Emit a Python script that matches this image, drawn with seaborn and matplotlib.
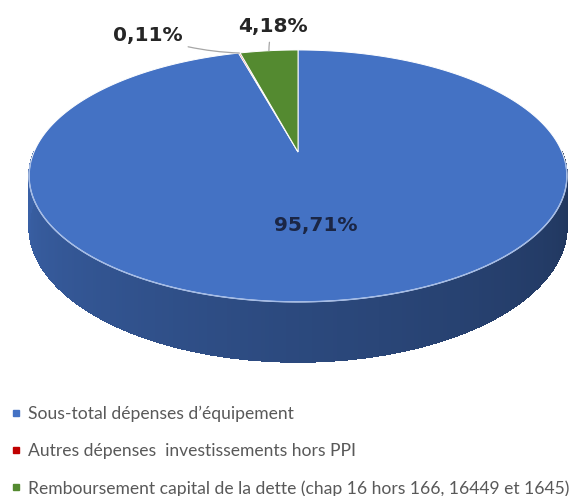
import numpy as np
import matplotlib
matplotlib.use("Agg")
import matplotlib.pyplot as plt
from matplotlib.lines import Line2D
from matplotlib.colors import to_rgb
import seaborn as sns

# ---- data -------------------------------------------------------------
categories = [
    "Sous-total dépenses d’équipement",
    "Autres dépenses  investissements hors PPI",
    "Remboursement capital de la dette (chap 16 hors 166, 16449 et 1645)",
]
shares = [95.71, 0.11, 4.18]
share_labels = ["95,71%", "0,11%", "4,18%"]
colors = ["#4472C4", "#C00000", "#548A30"]

# ---- theme ------------------------------------------------------------
sns.set_theme(style="white")
plt.rcParams["font.family"] = ["DejaVu Sans"]

W, H = 574, 496
fig = plt.figure(figsize=(W / 100, H / 100), dpi=100)
ax = fig.add_axes([0, 0, 1, 1])
ax.set_xlim(0, W)
ax.set_ylim(H, 0)
ax.axis("off")

# ---- 3D pie geometry (tilted disc seen in perspective) ----------------
CX, CY = 298.0, 152.0      # centre of the top face
A, B, K = 264.0, 121.4, 0.19
DEPTH = 48.6


def project(theta_deg, r=1.0):
    """Angle measured clockwise from 12 o'clock -> screen position."""
    t = np.radians(theta_deg)
    u, v = r * np.sin(t), r * np.cos(t)
    d = 1.0 + K * v
    return CX + A * u / d, CY - B * v / d, DEPTH / d


def side_factor(theta):
    # darker towards the right, lighter towards the left
    return np.interp(theta, [90, 180, 270], [0.45, 0.64, 0.86])


fracs = np.array(shares) / np.sum(shares)
bounds = np.concatenate([[0.0], np.cumsum(fracs) * 360.0])

# side walls (only the front half of the disc is visible)
for i, c in enumerate(colors):
    t0, t1 = max(bounds[i], 90.0), min(bounds[i + 1], 270.0)
    if t1 <= t0:
        continue
    steps = np.linspace(t0, t1, int(np.ceil((t1 - t0) / 0.75)) + 1)
    base = np.array(to_rgb(c))
    # smooth outline of the whole wall first
    top = [project(t) for t in steps]
    xs = [p[0] for p in top] + [p[0] for p in top[::-1]]
    ys = [p[1] for p in top] + [p[1] + p[2] for p in top[::-1]]
    ax.fill(xs, ys, color=np.clip(base * side_factor(180), 0, 1),
            lw=0, zorder=1)
    # shaded bands on top, without anti-aliasing seams
    for ta, tb in zip(steps[:-1], steps[1:]):
        xa, ya, da = project(ta)
        xb, yb, db = project(tb)
        col = np.clip(base * side_factor(0.5 * (ta + tb)), 0, 1)
        ax.fill([xa, xb, xb, xa], [ya, yb, yb + db, ya + da],
                color=col, lw=0.6, ec=col, antialiased=False, zorder=1.1)

# top faces
for i, c in enumerate(colors):
    t0, t1 = bounds[i], bounds[i + 1]
    ts = np.linspace(t0, t1, max(int((t1 - t0) / 0.5), 2) + 1)
    pts = [project(t) for t in ts]
    xs = [CX] + [p[0] for p in pts]
    ys = [CY] + [p[1] for p in pts]
    ax.fill(xs, ys, color=c, ec="white", lw=0.7, zorder=2)

# light rim along the front edge of the top face
ts = np.linspace(95, 265, 200)
rim = [project(t) for t in ts]
ax.plot([p[0] for p in rim], [p[1] for p in rim], color="#a3bbe6",
        lw=1.0, zorder=3, solid_capstyle="round")

# ---- data labels --------------------------------------------------------
mids = 0.5 * (bounds[:-1] + bounds[1:])

x0, y0, _ = project(mids[0], 0.55)
ax.text(x0 - 4, y0, share_labels[0], ha="center", va="center",
        fontsize=14.5, fontweight="bold", color="#1b2645", zorder=4)

offsets = {1: (-92, 18), 2: (4, 24)}
for i, (dx, dy) in offsets.items():
    ex, ey, _ = project(mids[i], 1.0)
    ax.annotate(share_labels[i], xy=(ex, ey), xytext=(dx, dy),
                textcoords="offset pixels", ha="center", va="center",
                fontsize=14.5, fontweight="bold", color="#262626",
                arrowprops=dict(arrowstyle="-", color="#a6a6a6", lw=0.9,
                                shrinkA=2, shrinkB=0,
                                connectionstyle="arc3,rad=0.08"),
                zorder=4)

# ---- legend -------------------------------------------------------------
handles = [Line2D([0], [0], marker="s", linestyle="", markersize=4.5,
                  markerfacecolor=c, markeredgecolor=c) for c in colors]
ax.legend(handles, categories, loc="upper left",
          bbox_to_anchor=(11.5 / W, 1 - 406 / H), bbox_transform=ax.transAxes,
          frameon=False, borderaxespad=0, borderpad=0,
          handlelength=0.5, handletextpad=0.42, labelspacing=1.19,
          prop=dict(family="Lato", size=12.6), labelcolor="#595959")

fig.savefig("out.png", dpi=100, facecolor="white")
